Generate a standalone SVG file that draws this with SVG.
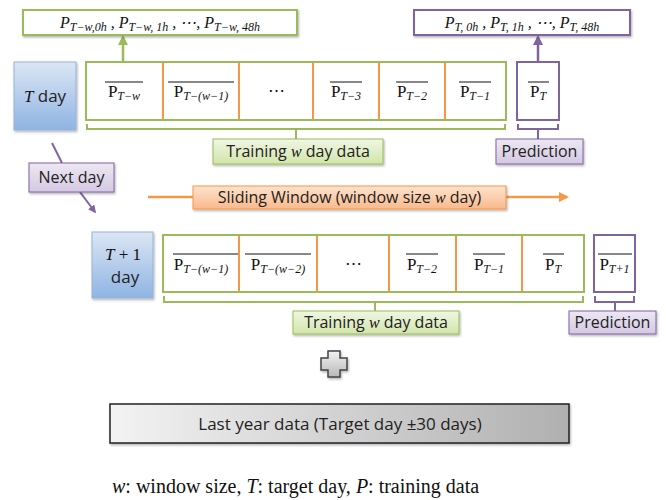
<svg xmlns="http://www.w3.org/2000/svg" width="666" height="500" viewBox="0 0 666 500">
<defs>
<linearGradient id="gBlue" x1="0" y1="0" x2="0" y2="1"><stop offset="0" stop-color="#dce6f4"/><stop offset="1" stop-color="#8fb4e3"/></linearGradient>
<linearGradient id="gGreen" x1="0" y1="0" x2="0" y2="1"><stop offset="0" stop-color="#f0f6e4"/><stop offset="1" stop-color="#d2e5a9"/></linearGradient>
<linearGradient id="gPurple" x1="0" y1="0" x2="0" y2="1"><stop offset="0" stop-color="#ede8f3"/><stop offset="1" stop-color="#d3c8e2"/></linearGradient>
<linearGradient id="gOrange" x1="0" y1="0" x2="0" y2="1"><stop offset="0" stop-color="#fde3cf"/><stop offset="1" stop-color="#f9b98a"/></linearGradient>
<linearGradient id="gGray" x1="0" y1="0" x2="1" y2="0"><stop offset="0" stop-color="#f3f3f3"/><stop offset="1" stop-color="#b0b0b0"/></linearGradient>
<linearGradient id="gPlus" x1="0" y1="0" x2="0" y2="1"><stop offset="0" stop-color="#f2f2f2"/><stop offset="1" stop-color="#b8b8b8"/></linearGradient>
<marker id="mGreen" viewBox="0 0 10 10" refX="8" refY="5" markerWidth="4" markerHeight="4" orient="auto"><path d="M0,0 L10,5 L0,10 Z" fill="#9bbb59"/></marker>
<marker id="mPurple" viewBox="0 0 10 10" refX="8" refY="5" markerWidth="4" markerHeight="4" orient="auto"><path d="M0,0 L10,5 L0,10 Z" fill="#8064a2"/></marker>
<marker id="mOrange" viewBox="0 0 10 10" refX="8" refY="5" markerWidth="4" markerHeight="4" orient="auto"><path d="M0,0 L10,5 L0,10 Z" fill="#f79646"/></marker>
<filter id="sh" x="-10%" y="-10%" width="130%" height="140%"><feDropShadow dx="1" dy="1.5" stdDeviation="1" flood-color="#000" flood-opacity="0.3"/></filter>
</defs>
<style>
.sans{font-family:"Open Sans","Liberation Sans",sans-serif;font-size:16px;fill:#222}
.mi{font-family:"Liberation Serif","DejaVu Serif",serif;font-style:italic;font-size:16px;fill:#111}
.pr{font-family:"Liberation Serif","DejaVu Serif",serif;font-size:17px;fill:#111}
.sub{font-family:"Liberation Serif","DejaVu Serif",serif;font-style:italic;font-size:12px}
.gframe{fill:#fff;stroke:#9bbb59;stroke-width:2}
.pframe{fill:#fff;stroke:#8064a2;stroke-width:2}
.div{stroke:#f79646;stroke-width:2}
.ol{stroke:#111;stroke-width:1}
.gbr{fill:none;stroke:#9bbb59;stroke-width:2}
.pbr{fill:none;stroke:#8064a2;stroke-width:2}
</style>
<rect width="666" height="500" fill="#fff"/>

<g id="connectors">
<line x1="123" y1="80" x2="123" y2="37" stroke="#9bbb59" stroke-width="2.5" marker-end="url(#mGreen)"/>
<line x1="538" y1="80" x2="538" y2="37" stroke="#8064a2" stroke-width="2.5" marker-end="url(#mPurple)"/>
<line x1="52" y1="143" x2="62" y2="163" stroke="#8064a2" stroke-width="2"/>
<line x1="80" y1="192" x2="95" y2="212" stroke="#8064a2" stroke-width="2" marker-end="url(#mPurple)"/>
<line x1="148" y1="197" x2="193" y2="197" stroke="#f79646" stroke-width="2.5"/>
<line x1="506" y1="197" x2="567" y2="197" stroke="#f79646" stroke-width="2.5" marker-end="url(#mOrange)"/>
<path class="gbr" d="M87,124 V129 H505 V124 M296,129 V139"/>
<path class="pbr" d="M518,124 V129 H558 V124 M538,129 V139"/>
<path class="gbr" d="M164,296 V302 H583 V296 M375,302 V311"/>
<path class="pbr" d="M595,296 V302 H634 V296 M615,302 V311"/>
</g>

<g id="top-left-values">
<rect x="23" y="10" width="274" height="25" fill="#fff" stroke="#9bbb59" stroke-width="2" filter="url(#sh)"/>
<text x="160" y="28" text-anchor="middle" class="mi">P<tspan class="sub" dy="3">T−w,0h</tspan><tspan dy="-3"> , P</tspan><tspan class="sub" dy="3">T−w, 1h</tspan><tspan dy="-3"> , ⋯, P</tspan><tspan class="sub" dy="3">T−w, 48h</tspan></text>
</g>

<g id="top-right-values">
<rect x="414" y="10" width="216" height="25" fill="#fff" stroke="#8064a2" stroke-width="2" filter="url(#sh)"/>
<text x="522" y="28" text-anchor="middle" class="mi">P<tspan class="sub" dy="3">T, 0h</tspan><tspan dy="-3"> , P</tspan><tspan class="sub" dy="3">T, 1h</tspan><tspan dy="-3"> , ⋯, P</tspan><tspan class="sub" dy="3">T, 48h</tspan></text>
</g>

<g id="t-day">
<rect x="14" y="62" width="62" height="68" fill="url(#gBlue)" stroke="#95b3d7" stroke-width="1" filter="url(#sh)"/>
<text x="45" y="102" text-anchor="middle" class="sans" style="font-size:17px"><tspan class="mi" style="font-size:17px">T</tspan> day</text>
</g>

<g id="row1">
<rect class="gframe" x="86" y="62" width="420" height="58"/>
<line class="div" x1="163" y1="62" x2="163" y2="120"/>
<line class="div" x1="239" y1="62" x2="239" y2="120"/>
<line class="div" x1="313" y1="62" x2="313" y2="120"/>
<line class="div" x1="379" y1="62" x2="379" y2="120"/>
<line class="div" x1="445" y1="62" x2="445" y2="120"/>
<rect x="86" y="62" width="420" height="58" fill="none" stroke="#9bbb59" stroke-width="2"/>
<text x="124" y="97" text-anchor="middle" class="pr">P<tspan class="sub" dy="3">T−w</tspan></text>
<line class="ol" x1="105" y1="82" x2="143" y2="82"/>
<text x="201" y="97" text-anchor="middle" class="pr">P<tspan class="sub" dy="3">T−(w−1)</tspan></text>
<line class="ol" x1="168" y1="82" x2="234" y2="82"/>
<text x="276" y="96" text-anchor="middle" class="pr">⋯</text>
<text x="346" y="97" text-anchor="middle" class="pr">P<tspan class="sub" dy="3">T−3</tspan></text>
<line class="ol" x1="330" y1="82" x2="362" y2="82"/>
<text x="412" y="97" text-anchor="middle" class="pr">P<tspan class="sub" dy="3">T−2</tspan></text>
<line class="ol" x1="396" y1="82" x2="428" y2="82"/>
<text x="475" y="97" text-anchor="middle" class="pr">P<tspan class="sub" dy="3">T−1</tspan></text>
<line class="ol" x1="459" y1="82" x2="491" y2="82"/>
</g>

<g id="pred1">
<rect class="pframe" x="517" y="62" width="42" height="58"/>
<text x="538" y="97" text-anchor="middle" class="pr">P<tspan class="sub" dy="3">T</tspan></text>
<line class="ol" x1="528" y1="82" x2="549" y2="82"/>
</g>

<g id="train-label-1">
<rect x="213" y="139" width="170" height="25" fill="url(#gGreen)" stroke="#9bbb59" stroke-width="1" filter="url(#sh)"/>
<text x="298" y="157" text-anchor="middle" class="sans">Training <tspan class="mi">w</tspan> day data</text>
</g>

<g id="pred-label-1">
<rect x="496" y="139" width="87" height="25" fill="url(#gPurple)" stroke="#8064a2" stroke-width="1" filter="url(#sh)"/>
<text x="539.5" y="157" text-anchor="middle" class="sans">Prediction</text>
</g>

<g id="next-day">
<rect x="29" y="163" width="85" height="29" fill="url(#gPurple)" stroke="#8064a2" stroke-width="1" filter="url(#sh)"/>
<text x="71.5" y="183" text-anchor="middle" class="sans">Next day</text>
</g>

<g id="sliding-window">
<rect x="193" y="186" width="313" height="23" fill="url(#gOrange)" stroke="#f79646" stroke-width="1" filter="url(#sh)"/>
<text x="349.5" y="203" text-anchor="middle" class="sans">Sliding Window (window size <tspan class="mi">w</tspan> day)</text>
</g>

<g id="t1-day">
<rect x="92" y="232" width="61" height="66" fill="url(#gBlue)" stroke="#95b3d7" stroke-width="1" filter="url(#sh)"/>
<text x="123" y="260" text-anchor="middle" class="pr"><tspan font-style="italic">T</tspan> + 1</text>
<text x="125" y="283" text-anchor="middle" class="sans" style="font-size:17px">day</text>
</g>

<g id="row2">
<rect class="gframe" x="163" y="235" width="421" height="57"/>
<line class="div" x1="239" y1="235" x2="239" y2="292"/>
<line class="div" x1="317" y1="235" x2="317" y2="292"/>
<line class="div" x1="389" y1="235" x2="389" y2="292"/>
<line class="div" x1="456" y1="235" x2="456" y2="292"/>
<line class="div" x1="522" y1="235" x2="522" y2="292"/>
<rect x="163" y="235" width="421" height="57" fill="none" stroke="#9bbb59" stroke-width="2"/>
<text x="201" y="270" text-anchor="middle" class="pr">P<tspan class="sub" dy="3">T−(w−1)</tspan></text>
<line class="ol" x1="173" y1="254" x2="238" y2="254"/>
<text x="278" y="270" text-anchor="middle" class="pr">P<tspan class="sub" dy="3">T−(w−2)</tspan></text>
<line class="ol" x1="245" y1="254" x2="311" y2="254"/>
<text x="353" y="269" text-anchor="middle" class="pr">⋯</text>
<text x="422" y="270" text-anchor="middle" class="pr">P<tspan class="sub" dy="3">T−2</tspan></text>
<line class="ol" x1="406" y1="254" x2="438" y2="254"/>
<text x="489" y="270" text-anchor="middle" class="pr">P<tspan class="sub" dy="3">T−1</tspan></text>
<line class="ol" x1="473" y1="254" x2="505" y2="254"/>
<text x="553" y="270" text-anchor="middle" class="pr">P<tspan class="sub" dy="3">T</tspan></text>
<line class="ol" x1="543" y1="254" x2="564" y2="254"/>
</g>

<g id="pred2">
<rect class="pframe" x="594" y="235" width="41" height="57"/>
<text x="614.5" y="270" text-anchor="middle" class="pr">P<tspan class="sub" dy="3">T+1</tspan></text>
<line class="ol" x1="598" y1="254" x2="632" y2="254"/>
</g>

<g id="train-label-2">
<rect x="293" y="311" width="166" height="23" fill="url(#gGreen)" stroke="#9bbb59" stroke-width="1" filter="url(#sh)"/>
<text x="376" y="328" text-anchor="middle" class="sans">Training <tspan class="mi">w</tspan> day data</text>
</g>

<g id="pred-label-2">
<rect x="569" y="311" width="87" height="23" fill="url(#gPurple)" stroke="#8064a2" stroke-width="1" filter="url(#sh)"/>
<text x="612.5" y="328" text-anchor="middle" class="sans">Prediction</text>
</g>

<g id="plus">
<path d="M328,351 H340 V358 H347 V370 H340 V377 H328 V370 H321 V358 H328 Z" fill="url(#gPlus)" stroke="#444" stroke-width="1.5" filter="url(#sh)"/>
</g>

<g id="last-year">
<rect x="110" y="404" width="459" height="39" fill="url(#gGray)" stroke="#222" stroke-width="1.5" filter="url(#sh)"/>
<text x="340" y="430" text-anchor="middle" class="sans" style="font-size:17px">Last year data (Target day ±30 days)</text>
</g>

<g id="legend">
<text x="112" y="493" style="font-family:'Liberation Serif','DejaVu Serif',serif;font-size:20px;fill:#111"><tspan font-style="italic">w</tspan>: window size, <tspan font-style="italic">T</tspan>: target day, <tspan font-style="italic">P</tspan>: training data</text>
</g>
</svg>
